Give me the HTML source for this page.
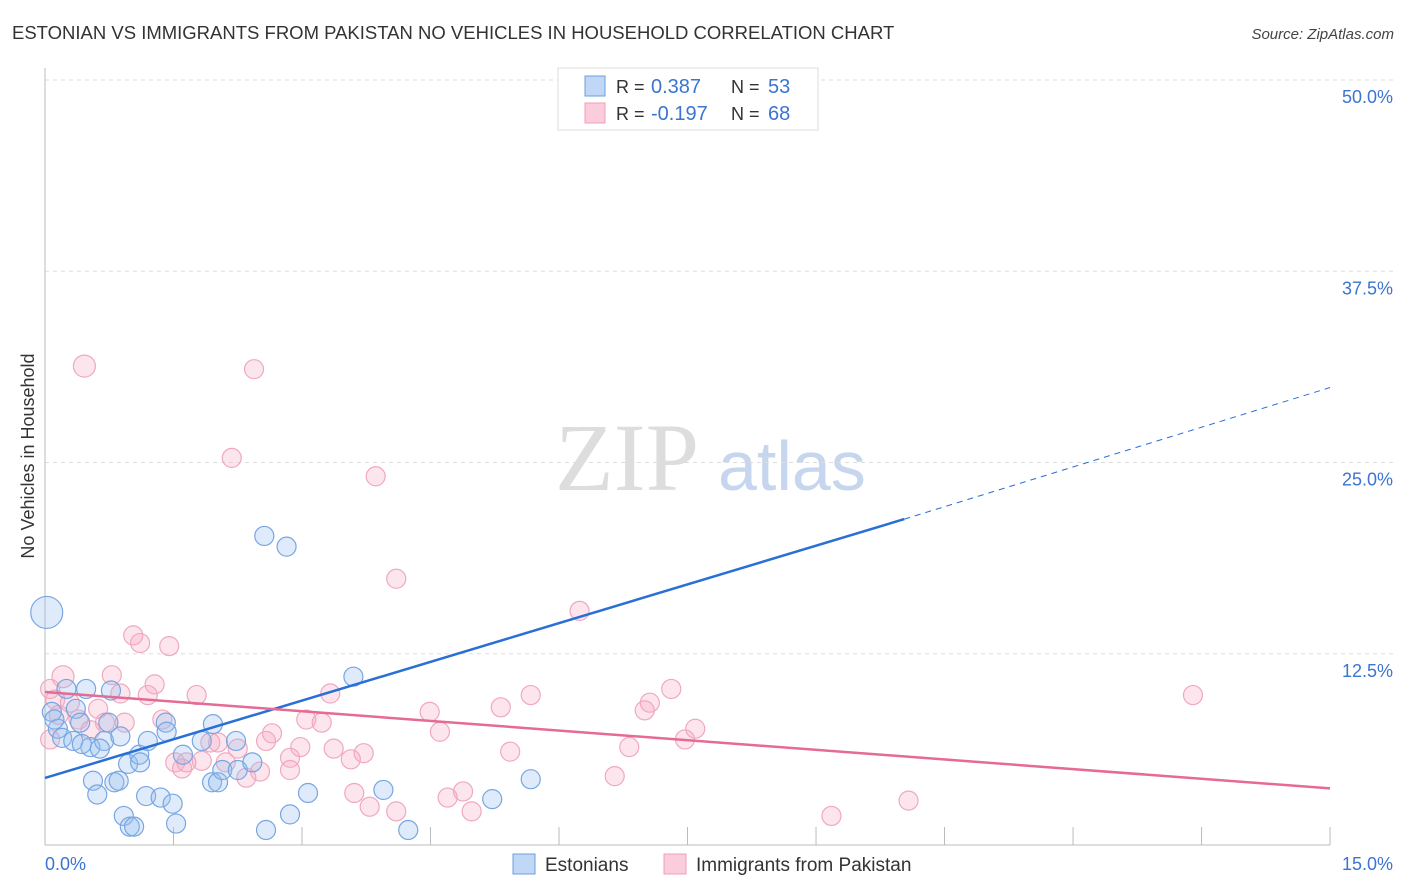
<!DOCTYPE html>
<html><head><meta charset="utf-8"><style>
body{margin:0;background:#fff;font-family:"Liberation Sans",sans-serif}
#c{position:absolute;left:0;top:0}
</style></head><body>
<svg id="c" width="1406" height="892"></svg>
<script>
const bluePts=[[0.02,15.2],[0.08,8.7],[0.15,7.6],[0.2,7.0],[0.25,10.2],[0.33,6.8],[0.36,8.9],[0.41,8.0],[0.48,10.2],[0.53,6.4],[0.56,4.2],[0.61,3.3],[0.69,6.8],[0.74,8.0],[0.77,10.1],[0.81,4.1],[0.86,4.2],[0.88,7.1],[0.92,1.9],[0.97,5.3],[0.99,1.2],[1.04,1.2],[1.1,5.9],[1.11,5.4],[1.18,3.2],[1.2,6.8],[1.35,3.1],[1.41,8.0],[1.49,2.7],[1.53,1.4],[1.61,5.9],[1.83,6.8],[1.95,4.1],[1.96,7.9],[2.02,4.1],[2.07,4.9],[2.25,4.9],[2.42,5.4],[2.56,20.2],[2.58,0.98],[2.82,19.5],[2.86,2.0],[3.07,3.4],[3.6,11.0],[3.95,3.6],[4.24,0.98],[5.22,3.0],[5.67,4.3],[0.11,8.2],[0.43,6.6],[0.64,6.3],[1.42,7.4],[2.23,6.8]];
const pinkPts=[[0.46,31.3],[2.44,31.1],[2.18,25.3],[3.86,24.1],[4.1,17.4],[6.24,15.3],[1.03,13.7],[1.11,13.2],[1.45,13.0],[0.21,11.0],[0.78,11.1],[0.06,10.2],[0.12,9.5],[0.88,9.9],[1.2,9.8],[1.28,10.5],[1.77,9.8],[3.33,9.9],[5.67,9.8],[7.31,10.2],[13.4,9.8],[7.06,9.3],[7.0,8.8],[4.49,8.7],[5.32,9.0],[0.62,8.9],[1.37,8.2],[0.93,8.0],[3.05,8.2],[3.23,8.0],[4.61,7.4],[2.65,7.3],[7.59,7.6],[7.47,6.9],[2.58,6.8],[2.25,6.3],[1.93,6.7],[2.02,6.7],[2.98,6.4],[3.37,6.3],[3.72,6.0],[3.57,5.6],[5.43,6.1],[6.82,6.4],[1.52,5.4],[1.6,5.0],[1.83,5.5],[2.11,5.4],[2.51,4.8],[2.86,5.7],[2.35,4.4],[2.86,4.9],[6.65,4.5],[3.61,3.4],[3.79,2.5],[4.1,2.2],[4.7,3.1],[4.88,3.5],[4.98,2.2],[10.08,2.9],[9.18,1.9],[0.7,8.0],[0.39,8.2],[0.16,8.5],[0.29,9.3],[0.53,7.5],[0.06,6.9],[1.65,5.4]];
const blueLine=[4.38,21.3,10.03,29.9];
const pinkLine=[10.0,3.7];
const yTicks=[12.5,25.0,37.5,50.0];
const xTickVals=[0,1.5,3,4.5,6,7.5,9,10.5,12,13.5,15];
const X=v=>45+v*85.67, Y=v=>845-v*15.3;
const svg=document.getElementById('c');const NS='http://www.w3.org/2000/svg';
function mk(t,a,p){const e=document.createElementNS(NS,t);for(const k in a)e.setAttribute(k,a[k]);(p||svg).appendChild(e);return e;}
function tx(s,a){const e=mk('text',a);e.textContent=s;return e;}
let e;
e=tx('ESTONIAN VS IMMIGRANTS FROM PAKISTAN NO VEHICLES IN HOUSEHOLD CORRELATION CHART',{x:12,y:39,'font-size':18.5,fill:'#333'});


e=tx('Source: ZipAtlas.com',{x:1394,y:39,'font-size':15,fill:'#444','font-style':'italic','text-anchor':'end'});


e=tx('ZIP',{x:555,y:490,'font-size':96,fill:'#ddd','font-family':'Liberation Serif'});


e=tx('atlas',{x:718,y:490,'font-size':70,fill:'#c5d6ee'});


yTicks.forEach(v=>{
 e=mk('line',{x1:45,x2:1395,y1:Y(v),y2:Y(v),stroke:'#ddd','stroke-dasharray':'4,4'});
 
 
 e=tx(v.toFixed(1)+'%',{x:1393,y:Y(v)+23,'font-size':18,fill:'#3b74d1','text-anchor':'end'});
 
 
});
e=mk('line',{x1:45,x2:45,y1:68,y2:845,stroke:'#bbb'});


e=mk('line',{x1:45,x2:1330,y1:845,y2:845,stroke:'#bbb'});


xTickVals.forEach(v=>{e=mk('line',{x1:X(v),x2:X(v),y1:827,y2:845,stroke:'#bbb'});
 
 });
e=tx('0.0%',{x:45,y:870,'font-size':18,fill:'#3b74d1'});


e=tx('15.0%',{x:1393,y:870,'font-size':18,fill:'#3b74d1','text-anchor':'end'});


e=tx('No Vehicles in Household',{x:34,y:456,'font-size':18,fill:'#333','text-anchor':'middle',transform:'rotate(-90 34 456)'});


pinkPts.forEach(p=>{e=mk('circle',{cx:X(p[0]),cy:Y(p[1]),r:(p[0]==0.46||p[0]==0.21)?11:9.5,fill:'rgba(248,170,195,0.3)',stroke:'#f0a8bf','stroke-width':1.2});
 
 });
bluePts.forEach(p=>{e=mk('circle',{cx:X(p[0]),cy:Y(p[1]),r:p[0]<0.05?16:9.5,fill:'rgba(150,190,240,0.3)',stroke:'#78a6e2','stroke-width':1.2});
 
 });
e=mk('line',{x1:X(0),y1:Y(blueLine[0]),x2:X(blueLine[2]),y2:Y(blueLine[1]),stroke:'#2a6fd6','stroke-width':2.5});


e=mk('line',{x1:X(blueLine[2]),y1:Y(blueLine[1]),x2:X(15),y2:Y(blueLine[3]),stroke:'#2a6fd6','stroke-width':1,'stroke-dasharray':'6,5'});


e=mk('line',{x1:X(0),y1:Y(pinkLine[0]),x2:X(15),y2:Y(pinkLine[1]),stroke:'#e56a95','stroke-width':2.5});


e=mk('rect',{x:558,y:68,width:260,height:62,fill:'#fff',stroke:'#ddd'});


[[0,'rgba(150,190,240,0.6)','#6c9ee0','0.387','53'],[1,'rgba(248,170,195,0.6)','#f0a0b8','-0.197','68']].forEach(r=>{
 const y=76+r[0]*27;
 mk('rect',{x:585,y:y,width:20,height:20,fill:r[1],stroke:r[2]});
 tx('R = ',{x:616,y:y+17,'font-size':18,fill:'#333'});
 tx(r[3],{x:651,y:y+17,'font-size':20,fill:'#3b74d1'});
 tx('N = ',{x:731,y:y+17,'font-size':18,fill:'#333'});
 tx(r[4],{x:768,y:y+17,'font-size':20,fill:'#3b74d1'});
});
e=mk('rect',{x:513,y:854,width:22,height:20,fill:'rgba(150,190,240,0.6)',stroke:'#6c9ee0'});


e=tx('Estonians',{x:545,y:871,'font-size':19,fill:'#333'});


e=mk('rect',{x:664,y:854,width:22,height:20,fill:'rgba(248,170,195,0.6)',stroke:'#f0a0b8'});


e=tx('Immigrants from Pakistan',{x:696,y:871,'font-size':19,fill:'#333'});


</script>
</body></html>
